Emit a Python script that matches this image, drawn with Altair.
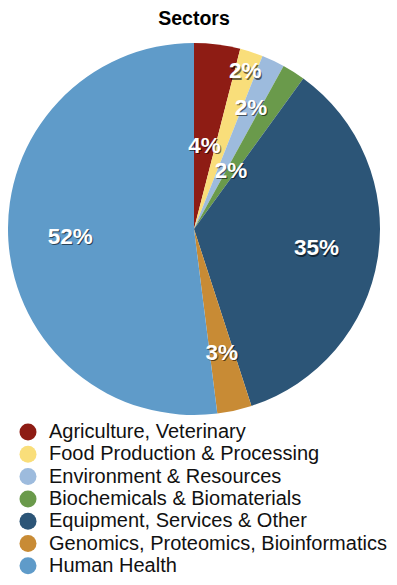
import altair as alt
import pandas as pd

# ---- data ----
sectors = [
    "Agriculture, Veterinary",
    "Food Production & Processing",
    "Environment & Resources",
    "Biochemicals & Biomaterials",
    "Equipment, Services & Other",
    "Genomics, Proteomics, Bioinformatics",
    "Human Health",
]
shares = [4, 2, 2, 2, 35, 3, 52]
colors = ["#8E1C14", "#F9DE7A", "#9DBBDD", "#6A9A4B", "#2C5577", "#C88B35", "#5F9BC9"]

df = pd.DataFrame({"sector": sectors, "share": shares, "idx": list(range(len(sectors)))})
df["label"] = df["share"].astype(str) + "%"

# label distance from centre (layout, staggered to avoid overlap in the thin slices)
label_r = {
    "Agriculture, Veterinary": 84,
    "Food Production & Processing": 166,
    "Environment & Resources": 134,
    "Biochemicals & Biomaterials": 69,
    "Genomics, Proteomics, Bioinformatics": 127,
}
expr = "124"
for k, v in label_r.items():
    expr = f"datum.sector === '{k}' ? {v} : ({expr})"

FONT = "Liberation Sans"
theta_scale = alt.Scale(domain=[0, 100])

base = (
    alt.Chart(df)
    .transform_window(cum="sum(share)", sort=[alt.SortField("idx")], frame=[None, 0])
    .transform_calculate(start="datum.cum - datum.share", mid="datum.cum - datum.share / 2", lr=expr)
)

pie = base.mark_arc(outerRadius=186).encode(
    theta=alt.Theta("start:Q", scale=theta_scale),
    theta2="cum:Q",
    color=alt.Color(
        "sector:N",
        scale=alt.Scale(domain=sectors, range=colors),
        legend=alt.Legend(
            title=None,
            orient="none",
            legendX=10,
            legendY=380,
            symbolType="circle",
            symbolSize=289,
            symbolStrokeWidth=0,
            symbolOpacity=1,
            labelFont=FONT,
            labelFontSize=20,
            labelColor="#111111",
            labelOffset=11,
            labelLimit=400,
            rowPadding=2.3,
            padding=0,
        ),
    ),
)

shadow = base.mark_text(
    font=FONT, fontWeight="bold", fontSize=22.5, color="#000000", opacity=0.55, dx=1, dy=1.5
).encode(
    theta=alt.Theta("mid:Q", scale=theta_scale),
    radius=alt.Radius("lr:Q", scale=None),
    text="label:N",
)

labels = base.mark_text(
    font=FONT, fontWeight="bold", fontSize=22.5, color="#FFFFFF"
).encode(
    theta=alt.Theta("mid:Q", scale=theta_scale),
    radius=alt.Radius("lr:Q", scale=None),
    text="label:N",
)

chart = (
    alt.layer(pie, shadow, labels)
    .properties(
        width=372,
        height=374,
        autosize="none",
        padding={"left": 0, "top": 34, "right": 9, "bottom": 161},
        title=alt.Title(
            "Sectors",
            font=FONT,
            fontSize=19.5,
            fontWeight="bold",
            color="#000000",
            anchor="middle",
            offset=13,
        ),
    )
    .configure_view(stroke=None)
)

chart.save("out.html", embed_options={"renderer": "svg", "actions": False})
